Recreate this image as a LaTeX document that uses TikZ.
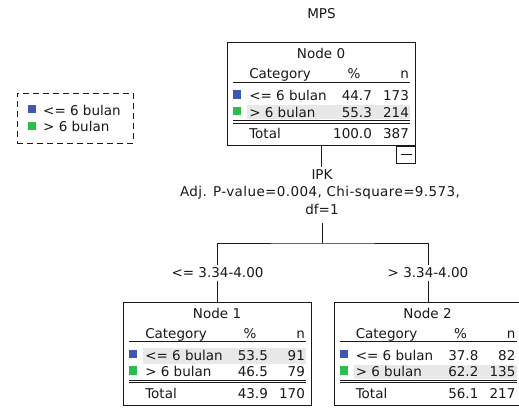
\documentclass[tikz,border=0pt]{standalone}
\usepackage{fontspec}
\setmainfont{DejaVu Sans}
\definecolor{catblue}{RGB}{64,86,176}
\definecolor{catgreen}{RGB}{44,190,76}
\definecolor{hlgray}{RGB}{232,232,232}
\tikzset{
  treebox/.style={draw=black!90, line width=0.9pt, minimum width=188pt, minimum height=103pt, inner sep=0pt},
  txt/.style={font=\fontsize{13.5}{16}\selectfont, inner sep=0pt, text=black!90},
  lbl/.style={txt, inner xsep=0pt, inner ysep=2.7pt, anchor=base},
  rule/.style={draw=black!90, line width=0.9pt},
  conn/.style={draw=black!90, line width=0.9pt},
  legendbox/.style={draw=black!90, line width=1pt, dash pattern=on 6pt off 4pt, minimum width=116pt, minimum height=50pt, inner sep=0pt},
  minusbox/.style={draw=black!90, line width=0.9pt, minimum width=19pt, minimum height=17pt, inner sep=0pt}
}
\newcommand{\TreeRows}[9]{%
\begin{scope}[shift={(#1.north west)}]
\ifnum#9=1 \fill[hlgray] (20,46) rectangle (183,62);\else \fill[hlgray] (20,63) rectangle (183,77);\fi
\node[txt,anchor=base] (#1-title) at (94,16.5) {#2};
\node[txt,anchor=base west] (#1-cat) at (22,36.5) {Category};
\node[txt,anchor=base] (#1-pcth) at (127,36.5) {\%};
\node[txt,anchor=base east] (#1-nh) at (182,36.5) {n};
\draw[rule] (6,40) -- (183,40);
\fill[catblue] (6,48) rectangle (14,56.5);
\node[txt,anchor=base west] (#1-c1) at (22,58.5) {<= 6 bulan};
\node[txt,anchor=base east] (#1-p1) at (145,58.5) {#3};
\node[txt,anchor=base east] (#1-n1) at (182,58.5) {#4};
\fill[catgreen] (6,64.5) rectangle (14,73);
\node[txt,anchor=base west] (#1-c2) at (22,75) {> 6 bulan};
\node[txt,anchor=base east] (#1-p2) at (145,75) {#5};
\node[txt,anchor=base east] (#1-n2) at (182,75) {#6};
\draw[rule] (6,78.5) -- (183,78.5);
\draw[rule] (6,81) -- (183,81);
\node[txt,anchor=base west] (#1-tot) at (22,96.5) {Total};
\node[txt,anchor=base east] (#1-pt) at (145,96.5) {#7};
\node[txt,anchor=base east] (#1-nt) at (182,96.5) {#8};
\end{scope}}
\begin{document}
\begin{tikzpicture}[x=1pt,y=-1pt]
\useasboundingbox[fill=white] (0,0) rectangle (519,407);
% title
\node[txt,anchor=base] (mps) at (321.5,18.5) {MPS};
% legend
\node[legendbox] (legend) at (75,118) {};
\fill[catblue] (28,105) rectangle (36,113);
\node[txt,anchor=base west] (leg1) at (43,115) {<= 6 bulan};
\fill[catgreen] (28,122) rectangle (36,130);
\node[txt,anchor=base west] (leg2) at (43,131) {> 6 bulan};
% nodes
\node[treebox] (n0) at (321.5,94) {};
\TreeRows{n0}{Node 0}{44.7}{173}{55.3}{214}{100.0}{387}{2}
\node[minusbox,anchor=north east] (minus) at (n0.south east) {};
\draw[rule] ([xshift=-5.5pt]minus.center) -- ([xshift=5.5pt]minus.center);
\node[treebox] (n1) at (217.5,353.5) {};
\TreeRows{n1}{Node 1}{53.5}{91}{46.5}{79}{43.9}{170}{1}
\node[treebox] (n2) at (428,353.5) {};
\TreeRows{n2}{Node 2}{37.8}{82}{62.2}{135}{56.1}{217}{2}
% split labels
\node[lbl] (ipk) at (322,179.5) {IPK};
\node[lbl] (adj) at (320,196.5) {\addfontfeature{LetterSpace=3}Adj. P-value=0.004, Chi-square=9.573,};
\node[lbl,inner ysep=8.5pt] (df) at (322,214.5) {df=1};
\coordinate (split) at (322,243);
\node[lbl] (lab1) at (217.5,277.5) {<= 3.34-4.00};
\node[lbl] (lab2) at (428,277.5) {> 3.34-4.00};
% connectors
\draw[conn] (n0.south) -- (n0.south |- ipk.north);
\draw[conn] (df.south) -- (split);
\draw[conn] (lab1.north) |- (split) -| (lab2.north);
\draw[conn] (lab1.south) -- (n1.north);
\draw[conn] (lab2.south) -- (n2.north);
\end{tikzpicture}
\end{document}
